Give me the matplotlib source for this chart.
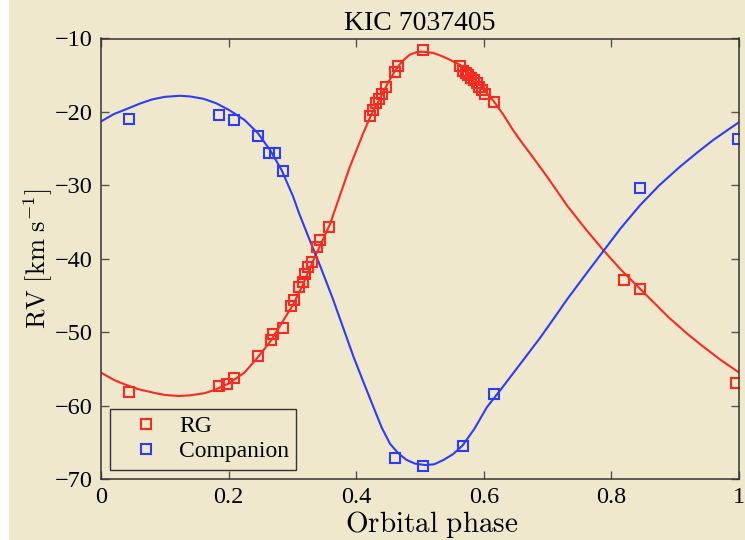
import matplotlib
matplotlib.use("Agg")
import matplotlib.pyplot as plt
from matplotlib.patches import Rectangle

plt.rcParams['font.family'] = ['Liberation Serif', 'DejaVu Serif']
plt.rcParams['mathtext.fontset'] = 'cm'

# measured radial velocities (phase, km/s)
rg_phase = [0.044, 0.185, 0.198, 0.208, 0.246, 0.266, 0.270, 0.285, 0.298,
            0.302, 0.311, 0.316, 0.320, 0.325, 0.330, 0.339, 0.343, 0.358,
            0.422, 0.426, 0.431, 0.436, 0.440, 0.447, 0.461, 0.466, 0.505,
            0.563, 0.568, 0.572, 0.576, 0.580, 0.584, 0.589, 0.593, 0.597,
            0.602, 0.616, 0.819, 0.845, 0.996]
rg_rv = [-58.1, -57.3, -57.1, -56.2, -53.2, -51.1, -50.2, -49.4, -46.4,
         -45.6, -43.9, -43.2, -42.1, -41.1, -40.5, -38.4, -37.4, -35.7,
         -20.6, -19.7, -18.8, -18.3, -17.5, -16.6, -14.5, -13.8, -11.6,
         -13.7, -14.4, -14.7, -15.0, -15.4, -15.7, -16.1, -16.6, -17.0,
         -17.5, -18.7, -42.9, -44.1, -56.9]

comp_phase = [0.044, 0.185, 0.208, 0.246, 0.264, 0.272, 0.285, 0.461,
              0.505, 0.567, 0.616, 0.845, 0.998]
comp_rv = [-21.0, -20.4, -21.1, -23.3, -25.6, -25.6, -28.1, -67.1,
           -68.2, -65.5, -58.4, -30.4, -23.7]

# orbit solutions
rg_fit_phase = [0.0, 0.02, 0.04, 0.06, 0.085, 0.10, 0.122, 0.14, 0.163,
                0.18, 0.20, 0.225, 0.246, 0.265, 0.283, 0.30, 0.315, 0.336,
                0.359, 0.374, 0.390, 0.411, 0.425, 0.437, 0.45, 0.461,
                0.472, 0.484, 0.495, 0.505, 0.52, 0.53, 0.542, 0.563,
                0.578, 0.594, 0.616, 0.63, 0.646, 0.66, 0.678, 0.699,
                0.715, 0.730, 0.76, 0.787, 0.815, 0.845, 0.89, 0.92, 0.94,
                0.97, 1.0]
rg_fit_rv = [-55.5, -56.5, -57.2, -57.8, -58.3, -58.55, -58.7, -58.6, -58.3,
             -57.8, -57.0, -55.5, -53.4, -51.3, -48.8, -46.4, -43.8, -39.6,
             -35.3, -31.5, -27.5, -22.9, -20.1, -18.2, -16.0, -14.4,
             -13.1, -12.2, -11.85, -11.8, -11.95, -12.25, -12.7, -13.6,
             -14.8, -16.3, -18.6, -20.3, -22.5, -24.2, -26.3, -28.8,
             -30.8, -32.7, -36.0, -38.8, -41.5, -44.1, -48.0, -50.3, -51.7,
             -53.7, -55.5]

comp_fit_phase = [0.0, 0.02, 0.043, 0.06, 0.08, 0.10, 0.124, 0.14, 0.16,
                  0.18, 0.20, 0.225, 0.246, 0.265, 0.283, 0.301, 0.31,
                  0.325, 0.345, 0.364, 0.38, 0.396, 0.41, 0.427, 0.44,
                  0.453, 0.466, 0.479, 0.492, 0.508, 0.522, 0.537, 0.552,
                  0.567, 0.585, 0.605, 0.625, 0.646, 0.667, 0.688, 0.71,
                  0.730, 0.76, 0.787, 0.815, 0.845, 0.875, 0.907, 0.935,
                  0.960, 0.98, 1.0]
comp_fit_rv = [-21.3, -20.3, -19.5, -18.9, -18.3, -17.95, -17.8, -17.9, -18.2,
               -18.8, -19.7, -21.1, -22.9, -25.2, -27.9, -31.5, -33.7,
               -37.0, -41.3, -45.6, -49.5, -53.4, -56.5, -60.2, -63.0,
               -65.2, -66.5, -67.4, -67.9, -68.1, -68.0, -67.4, -66.6,
               -65.4, -63.2, -60.2, -58.0, -55.6, -53.2, -50.8, -48.1,
               -45.6, -42.1, -39.0, -35.8, -32.7, -30.0, -27.5, -25.5,
               -23.8, -22.6, -21.4]

bg = '#f0e8cd'
red = '#ff2a1f'
blue = '#2a3cff'

fig = plt.figure(figsize=(7.45, 5.40), dpi=100, facecolor=bg)
fig.patches.append(Rectangle((0, 0), 9 / 745, 1, transform=fig.transFigure,
                             facecolor='white', edgecolor='none', zorder=-1))
ax = fig.add_axes([101 / 745, 1 - 479 / 540, 638 / 745, 440.5 / 540])
ax.set_facecolor(bg)

ax.plot(rg_fit_phase, rg_fit_rv, color=red, lw=1.5)
ax.plot(comp_fit_phase, comp_fit_rv, color=blue, lw=1.5)
ax.plot(rg_phase, rg_rv, 's', mfc='none', mec=red, mew=1.5, ms=6.5, label='RG')
ax.plot(comp_phase, comp_rv, 's', mfc='none', mec=blue, mew=1.5, ms=6.5,
        label='Companion')

ax.set_xlim(0, 1)
ax.set_ylim(-70, -10)
ax.set_xticks([0, 0.2, 0.4, 0.6, 0.8, 1])
ax.set_xticklabels(['0', '0.2', '0.4', '0.6', '0.8', '1'])
ax.set_yticks(range(-70, -9, 10))
ax.tick_params(direction='in', length=6, width=1, color='#555555',
               top=True, right=True, labelsize=17.5, pad=6)
for s in ax.spines.values():
    s.set_color('#333333')
    s.set_linewidth(1.1)

ax.set_title('KIC 7037405', fontsize=20, pad=6)
ax.set_xlabel(r'$\mathrm{Orbital\ phase}$', fontsize=21)
ax.xaxis.set_label_coords(0.518, -0.068)
ax.set_ylabel(r'$\mathrm{RV\ [km\ s^{-1}]}$', fontsize=19, labelpad=0)

leg = ax.legend(loc='lower left', fontsize=17, fancybox=False, framealpha=1,
                facecolor=bg, edgecolor='#333333', numpoints=1,
                borderaxespad=0.4, handlelength=2.4, handletextpad=0.2,
                borderpad=0.3, labelspacing=0.15)
leg.get_frame().set_linewidth(1.0)

fig.savefig('out.png', dpi=100, facecolor=bg)
